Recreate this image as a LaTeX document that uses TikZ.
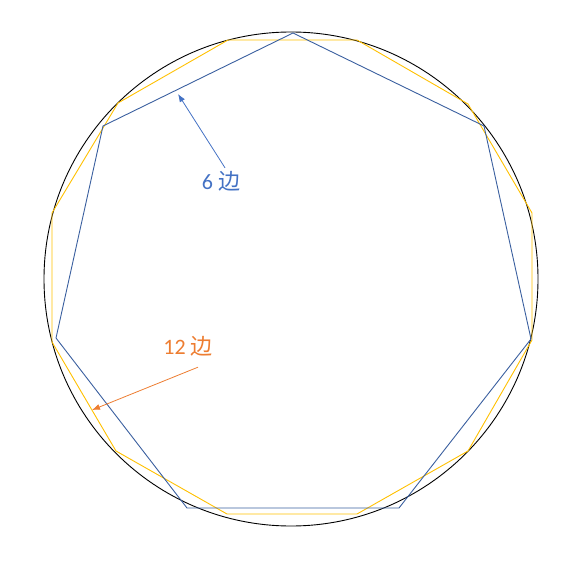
\documentclass[tikz,border=0pt]{standalone}
\usepackage{fontspec}
\usetikzlibrary{arrows.meta}
\setmainfont{Carlito}
\newfontfamily\cjk{Noto Sans CJK SC}
\definecolor{labelblue}{HTML}{4472C4}
\definecolor{edgeblue}{HTML}{3A5F9F}
\definecolor{edgeyellow}{HTML}{FFC000}
\definecolor{labelorange}{HTML}{ED7D31}
\tikzset{
	poly/.style={line width=0.9pt,line join=miter},
	tag/.style={font=\fontsize{22}{26}\selectfont,inner sep=1pt},
	pointer/.style={-{Latex[length=8pt,width=6pt]},line width=0.8pt}
}
\begin{document}
\begin{tikzpicture}[x=1pt,y=-1pt]
	\useasboundingbox (0,0) rectangle (575,564);
	\draw[black,line width=0.9pt] (291,279) coordinate (centre) circle (247pt);
	%12 sides
	\draw[poly,edgeyellow] (228,40) -- (357,40) -- (468,104) -- (532,213)
	-- (532,340) -- (468,451) -- (357,514) -- (227,514) -- (116,451)
	-- (52,342) -- (52,213) -- (118,103) -- cycle;
	%7 vertices, labelled 6
	\draw[poly,edgeblue] (293,33) -- (484,126) -- (531,339) -- (399,508)
	-- (187,508) -- (56,338) -- (103,126) -- cycle;
	%labels
	\node[tag,text=labelblue] (six) at (221,181) {6 {\cjk 边}};
	\node[tag,text=labelorange] (twelve) at (188,346) {12 {\cjk 边}};
	\coordinate (sixtip) at (178,94);
	\coordinate (twelvetip) at (92,410);
	\draw[pointer,labelblue] (six.north)++(4,-2) -- (sixtip);
	\draw[pointer,labelorange] (twelve.south)++(10,10) -- (twelvetip);
\end{tikzpicture}
\end{document}
